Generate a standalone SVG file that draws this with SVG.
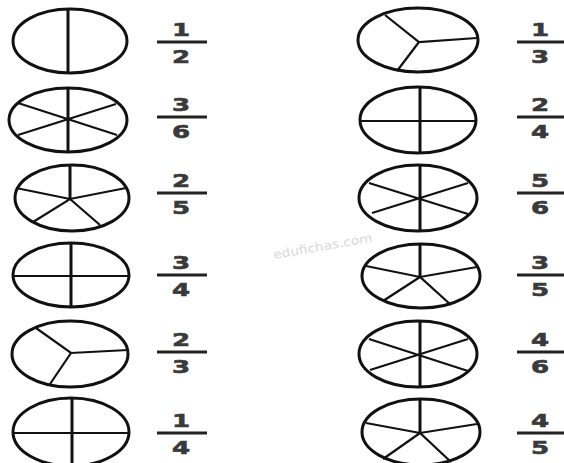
<svg xmlns="http://www.w3.org/2000/svg" width="564" height="463" viewBox="0 0 564 463">
<style>
.e{fill:none;stroke:#111;stroke-width:3}
.v{stroke:#111;stroke-width:3;fill:none}
.s{stroke:#111;stroke-width:2.2;fill:none}
.bar{stroke:#222;stroke-width:3}
.d{font-family:"DejaVu Sans",sans-serif;font-weight:bold;font-size:18px;fill:#3a3a3a;stroke:#3a3a3a;stroke-width:0.6;text-anchor:middle}
.wm{font-family:"DejaVu Sans",sans-serif;font-size:12px;fill:#d8d8d8}
</style>
<rect width="564" height="463" fill="#fff"/>
<text class="wm" transform="translate(274,259) rotate(-10) scale(1.15,1)">edufichas.com</text>

<g id="c-l1"><ellipse class="e" cx="70" cy="41" rx="57" ry="32"/><line class="v" x1="68" y1="9" x2="68" y2="73"/></g>
<g id="c-l2"><ellipse class="e" cx="68" cy="120" rx="59" ry="32"/><line class="v" x1="68" y1="88" x2="68" y2="152"/><path class="s" d="M18,103 L117,135 M116,104 L18,135"/></g>
<g id="c-l3"><ellipse class="e" cx="72" cy="198" rx="57" ry="33"/><line class="v" x1="70" y1="165" x2="70" y2="199"/><path class="s" d="M16,188 L70,199 L126,188 M33,222 L70,199 L100,225"/></g>
<g id="c-l4"><ellipse class="e" cx="71" cy="275" rx="58" ry="32"/><line class="v" x1="71" y1="243" x2="71" y2="307"/><line class="s" x1="13" y1="276" x2="129" y2="276"/></g>
<g id="c-l5"><ellipse class="e" cx="70" cy="354" rx="58" ry="33"/><path class="s" d="M36,328 L71,353 L128,350 M71,353 L50,384"/></g>
<g id="c-l6"><ellipse class="e" cx="71" cy="432" rx="58" ry="34"/><line class="v" x1="72" y1="398" x2="72" y2="466"/><line class="s" x1="13" y1="433" x2="129" y2="433"/></g>

<g id="c-r1"><ellipse class="e" cx="418" cy="40" rx="60" ry="32"/><path class="s" d="M385,15 L419,42 L477,38 M419,42 L397,71"/></g>
<g id="c-r2"><ellipse class="e" cx="418" cy="120" rx="58" ry="33"/><line class="v" x1="420" y1="87" x2="420" y2="153"/><line class="s" x1="360" y1="121" x2="476" y2="121"/></g>
<g id="c-r3"><ellipse class="e" cx="418" cy="198" rx="59" ry="33"/><line class="v" x1="420" y1="165" x2="420" y2="231"/><path class="s" d="M369,183 L468,214 M468,183 L372,213"/></g>
<g id="c-r4"><ellipse class="e" cx="421" cy="276" rx="59" ry="32"/><line class="v" x1="420" y1="244" x2="420" y2="277"/><path class="s" d="M366,266 L420,277 L477,267 M383,301 L420,277 L451,305"/></g>
<g id="c-r5"><ellipse class="e" cx="418" cy="354" rx="59" ry="33"/><line class="v" x1="420" y1="321" x2="420" y2="387"/><path class="s" d="M369,339 L468,371 M468,339 L370,370"/></g>
<g id="c-r6"><ellipse class="e" cx="421" cy="432" rx="59" ry="33"/><line class="v" x1="420" y1="399" x2="420" y2="433"/><path class="s" d="M366,423 L420,433 L477,424 M383,459 L420,433 L451,462"/></g>

<g id="f-l1"><line class="bar" x1="157" y1="42" x2="207" y2="42"/><text class="d" transform="translate(181,36) scale(1.45,1)">1</text><text class="d" transform="translate(181,63) scale(1.45,1)">2</text></g>
<g id="f-l2"><line class="bar" x1="157" y1="117" x2="207" y2="117"/><text class="d" transform="translate(181,111) scale(1.45,1)">3</text><text class="d" transform="translate(181,138) scale(1.45,1)">6</text></g>
<g id="f-l3"><line class="bar" x1="157" y1="193" x2="207" y2="193"/><text class="d" transform="translate(181,187) scale(1.45,1)">2</text><text class="d" transform="translate(181,214) scale(1.45,1)">5</text></g>
<g id="f-l4"><line class="bar" x1="157" y1="275" x2="207" y2="275"/><text class="d" transform="translate(181,269) scale(1.45,1)">3</text><text class="d" transform="translate(181,296) scale(1.45,1)">4</text></g>
<g id="f-l5"><line class="bar" x1="157" y1="352" x2="207" y2="352"/><text class="d" transform="translate(181,346) scale(1.45,1)">2</text><text class="d" transform="translate(181,373) scale(1.45,1)">3</text></g>
<g id="f-l6"><line class="bar" x1="157" y1="433" x2="207" y2="433"/><text class="d" transform="translate(181,427) scale(1.45,1)">1</text><text class="d" transform="translate(181,454) scale(1.45,1)">4</text></g>

<g id="f-r1"><line class="bar" x1="517" y1="42" x2="566" y2="42"/><text class="d" transform="translate(540,36) scale(1.45,1)">1</text><text class="d" transform="translate(540,63) scale(1.45,1)">3</text></g>
<g id="f-r2"><line class="bar" x1="517" y1="117" x2="566" y2="117"/><text class="d" transform="translate(540,111) scale(1.45,1)">2</text><text class="d" transform="translate(540,138) scale(1.45,1)">4</text></g>
<g id="f-r3"><line class="bar" x1="517" y1="193" x2="566" y2="193"/><text class="d" transform="translate(540,187) scale(1.45,1)">5</text><text class="d" transform="translate(540,214) scale(1.45,1)">6</text></g>
<g id="f-r4"><line class="bar" x1="517" y1="275" x2="566" y2="275"/><text class="d" transform="translate(540,269) scale(1.45,1)">3</text><text class="d" transform="translate(540,296) scale(1.45,1)">5</text></g>
<g id="f-r5"><line class="bar" x1="517" y1="352" x2="566" y2="352"/><text class="d" transform="translate(540,346) scale(1.45,1)">4</text><text class="d" transform="translate(540,373) scale(1.45,1)">6</text></g>
<g id="f-r6"><line class="bar" x1="517" y1="433" x2="566" y2="433"/><text class="d" transform="translate(540,427) scale(1.45,1)">4</text><text class="d" transform="translate(540,454) scale(1.45,1)">5</text></g>
</svg>
